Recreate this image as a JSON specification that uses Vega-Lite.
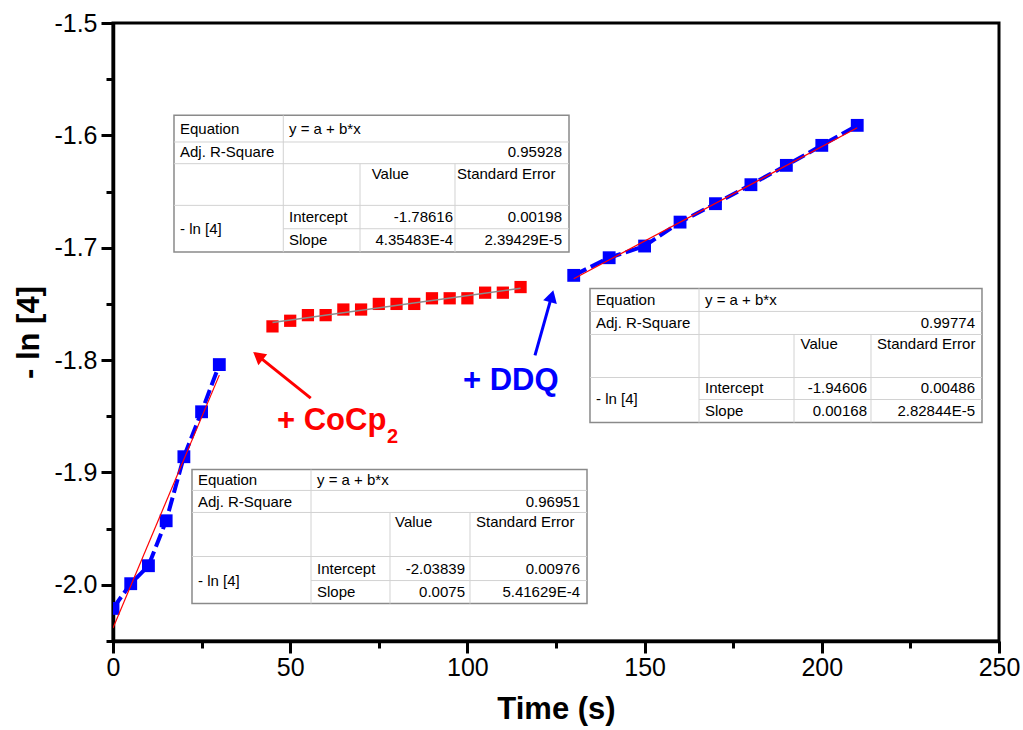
{
  "$schema": "https://vega.github.io/schema/vega-lite/v6.json",
  "width": 886,
  "height": 618,
  "autosize": {"type": "none"},
  "padding": {"left": 113, "top": 23, "right": 24, "bottom": 89},
  "background": "white",
  "config": {
    "view": {"stroke": "black", "strokeWidth": 3},
    "font": "Liberation Sans"
  },
  "datasets": {
    "pts": [
      {"series": "initial", "t": 0, "v": -2.021},
      {"series": "initial", "t": 5, "v": -1.999},
      {"series": "initial", "t": 10, "v": -1.983},
      {"series": "initial", "t": 15, "v": -1.943},
      {"series": "initial", "t": 20, "v": -1.886},
      {"series": "initial", "t": 25, "v": -1.846},
      {"series": "initial", "t": 30, "v": -1.804},
      {"series": "CoCp2", "t": 45, "v": -1.770},
      {"series": "CoCp2", "t": 50, "v": -1.765},
      {"series": "CoCp2", "t": 55, "v": -1.760},
      {"series": "CoCp2", "t": 60, "v": -1.760},
      {"series": "CoCp2", "t": 65, "v": -1.755},
      {"series": "CoCp2", "t": 70, "v": -1.755},
      {"series": "CoCp2", "t": 75, "v": -1.750},
      {"series": "CoCp2", "t": 80, "v": -1.750},
      {"series": "CoCp2", "t": 85, "v": -1.750},
      {"series": "CoCp2", "t": 90, "v": -1.745},
      {"series": "CoCp2", "t": 95, "v": -1.745},
      {"series": "CoCp2", "t": 100, "v": -1.745},
      {"series": "CoCp2", "t": 105, "v": -1.740},
      {"series": "CoCp2", "t": 110, "v": -1.740},
      {"series": "CoCp2", "t": 115, "v": -1.735},
      {"series": "DDQ", "t": 130, "v": -1.7246},
      {"series": "DDQ", "t": 140, "v": -1.7089},
      {"series": "DDQ", "t": 150, "v": -1.6985},
      {"series": "DDQ", "t": 160, "v": -1.6772},
      {"series": "DDQ", "t": 170, "v": -1.6608},
      {"series": "DDQ", "t": 180, "v": -1.6439},
      {"series": "DDQ", "t": 190, "v": -1.6267},
      {"series": "DDQ", "t": 200, "v": -1.6089},
      {"series": "DDQ", "t": 210, "v": -1.5911}
    ],
    "fits": [
      {"series": "initial", "t": 0, "v": -2.03839},
      {"series": "initial", "t": 30, "v": -1.81339},
      {"series": "CoCp2", "t": 45, "v": -1.76656},
      {"series": "CoCp2", "t": 115, "v": -1.73608},
      {"series": "DDQ", "t": 130, "v": -1.72766},
      {"series": "DDQ", "t": 210, "v": -1.59326}
    ],
    "arrows": [
      {"reagent": "CoCp2", "t": 55.79, "v": -1.8339, "t2": 40.91, "v2": -1.7962},
      {"reagent": "DDQ", "t": 119.07, "v": -1.7958, "t2": 123.78, "v2": -1.7431}
    ],
    "notes": [
      {"reagent": "CoCp2", "part": "main", "text": "+ CoCp", "t": 46.27, "v": -1.8626},
      {"reagent": "CoCp2", "part": "sub", "text": "2", "t": 77.31, "v": -1.8734},
      {"reagent": "DDQ", "part": "main", "text": "+ DDQ", "t": 98.76, "v": -1.8263}
    ],
    "tables": [
      {"table": 1, "t": 17.21, "t2": 128.67, "v": -1.5822, "v2": -1.7039},
      {"table": 2, "t": 134.59, "t2": 245.20, "v": -1.7362, "v2": -1.8556},
      {"table": 3, "t": 22.29, "t2": 133.75, "v": -1.8974, "v2": -2.0167}
    ],
    "tablelines": [
      {"table": 1, "t": 17.21, "t2": 128.67, "v": -1.6059, "v2": -1.6059},
      {"table": 1, "t": 17.21, "t2": 128.67, "v": -1.6252, "v2": -1.6252},
      {"table": 1, "t": 17.21, "t2": 128.67, "v": -1.6623, "v2": -1.6623},
      {"table": 1, "t": 48.05, "t2": 128.67, "v": -1.6831, "v2": -1.6831},
      {"table": 1, "t": 48.05, "t2": 48.05, "v": -1.5822, "v2": -1.7039},
      {"table": 1, "t": 69.70, "t2": 69.70, "v": -1.6252, "v2": -1.7039},
      {"table": 1, "t": 96.50, "t2": 96.50, "v": -1.6252, "v2": -1.7039},
      {"table": 2, "t": 134.59, "t2": 245.20, "v": -1.7567, "v2": -1.7567},
      {"table": 2, "t": 134.59, "t2": 245.20, "v": -1.7772, "v2": -1.7772},
      {"table": 2, "t": 134.59, "t2": 245.20, "v": -1.8155, "v2": -1.8155},
      {"table": 2, "t": 165.35, "t2": 245.20, "v": -1.8351, "v2": -1.8351},
      {"table": 2, "t": 165.35, "t2": 165.35, "v": -1.7362, "v2": -1.8556},
      {"table": 2, "t": 192.16, "t2": 192.16, "v": -1.7772, "v2": -1.8556},
      {"table": 2, "t": 213.88, "t2": 213.88, "v": -1.7772, "v2": -1.8556},
      {"table": 3, "t": 22.29, "t2": 133.75, "v": -1.9160, "v2": -1.9160},
      {"table": 3, "t": 22.29, "t2": 133.75, "v": -1.9356, "v2": -1.9356},
      {"table": 3, "t": 22.29, "t2": 133.75, "v": -1.9748, "v2": -1.9748},
      {"table": 3, "t": 55.87, "t2": 133.75, "v": -1.9962, "v2": -1.9962},
      {"table": 3, "t": 55.87, "t2": 55.87, "v": -1.8974, "v2": -2.0167},
      {"table": 3, "t": 78.16, "t2": 78.16, "v": -1.9356, "v2": -2.0167},
      {"table": 3, "t": 100.73, "t2": 100.73, "v": -1.9356, "v2": -2.0167}
    ],
    "tabletext": [
      {"table": 1, "kind": "label", "text": "Equation", "t": 18.91, "v": -1.5940},
      {"table": 1, "kind": "label", "text": "y = a + b*x", "t": 49.66, "v": -1.5940},
      {"table": 1, "kind": "label", "text": "Adj. R-Square", "t": 18.91, "v": -1.6151},
      {"table": 1, "kind": "label", "text": "Value", "t": 73.0, "v": -1.6341},
      {"table": 1, "kind": "label", "text": "Standard Error", "t": 97.07, "v": -1.6341},
      {"table": 1, "kind": "label", "text": "- ln [4]", "t": 18.91, "v": -1.6830},
      {"table": 1, "kind": "label", "text": "Intercept", "t": 49.66, "v": -1.6725},
      {"table": 1, "kind": "label", "text": "Slope", "t": 49.66, "v": -1.6930},
      {"table": 1, "kind": "number", "text": "0.95928", "t": 126.69, "v": -1.6151},
      {"table": 1, "kind": "number", "text": "-1.78616", "t": 95.94, "v": -1.6725},
      {"table": 1, "kind": "number", "text": "0.00198", "t": 126.69, "v": -1.6725},
      {"table": 1, "kind": "number", "text": "4.35483E-4", "t": 95.94, "v": -1.6930},
      {"table": 1, "kind": "number", "text": "2.39429E-5", "t": 126.69, "v": -1.6930},
      {"table": 2, "kind": "label", "text": "Equation", "t": 136.29, "v": -1.7464},
      {"table": 2, "kind": "label", "text": "y = a + b*x", "t": 167.04, "v": -1.7464},
      {"table": 2, "kind": "label", "text": "Adj. R-Square", "t": 136.29, "v": -1.7669},
      {"table": 2, "kind": "label", "text": "Value", "t": 194.0, "v": -1.7861},
      {"table": 2, "kind": "label", "text": "Standard Error", "t": 215.58, "v": -1.7861},
      {"table": 2, "kind": "label", "text": "- ln [4]", "t": 136.29, "v": -1.8350},
      {"table": 2, "kind": "label", "text": "Intercept", "t": 167.04, "v": -1.8252},
      {"table": 2, "kind": "label", "text": "Slope", "t": 167.04, "v": -1.8453},
      {"table": 2, "kind": "number", "text": "0.99774", "t": 243.23, "v": -1.7669},
      {"table": 2, "kind": "number", "text": "-1.94606", "t": 212.75, "v": -1.8252},
      {"table": 2, "kind": "number", "text": "0.00486", "t": 243.23, "v": -1.8252},
      {"table": 2, "kind": "number", "text": "0.00168", "t": 212.75, "v": -1.8453},
      {"table": 2, "kind": "number", "text": "2.82844E-5", "t": 243.23, "v": -1.8453},
      {"table": 3, "kind": "label", "text": "Equation", "t": 23.98, "v": -1.9067},
      {"table": 3, "kind": "label", "text": "y = a + b*x", "t": 57.56, "v": -1.9067},
      {"table": 3, "kind": "label", "text": "Adj. R-Square", "t": 23.98, "v": -1.9259},
      {"table": 3, "kind": "label", "text": "Value", "t": 79.57, "v": -1.9445},
      {"table": 3, "kind": "label", "text": "Standard Error", "t": 102.43, "v": -1.9445},
      {"table": 3, "kind": "label", "text": "- ln [4]", "t": 23.98, "v": -1.9962},
      {"table": 3, "kind": "label", "text": "Intercept", "t": 57.56, "v": -1.9855},
      {"table": 3, "kind": "label", "text": "Slope", "t": 57.56, "v": -2.0064},
      {"table": 3, "kind": "number", "text": "0.96951", "t": 131.77, "v": -1.9259},
      {"table": 3, "kind": "number", "text": "-2.03839", "t": 99.32, "v": -1.9855},
      {"table": 3, "kind": "number", "text": "0.00976", "t": 131.77, "v": -1.9855},
      {"table": 3, "kind": "number", "text": "0.0075", "t": 99.32, "v": -2.0064},
      {"table": 3, "kind": "number", "text": "5.41629E-4", "t": 131.77, "v": -2.0064}
    ]
  },
  "layer": [
    {
      "data": {"name": "pts"},
      "transform": [{"filter": "datum.series !== 'CoCp2'"}],
      "mark": {"type": "line", "color": "#0000ff", "strokeWidth": 4, "strokeDash": [14, 5], "clip": true},
      "encoding": {
        "x": {
          "field": "t", "type": "quantitative",
          "scale": {"domain": [0, 250], "nice": false, "zero": false},
          "axis": {
            "title": "Time (s)",
            "values": [0, 25, 50, 75, 100, 125, 150, 175, 200, 225, 250],
            "labelExpr": "datum.value % 50 === 0 ? format(datum.value, 'd') : ''",
            "tickSize": {"condition": {"test": "datum.value % 50 === 0", "value": 12}, "value": 7},
            "grid": false,
            "domainColor": "black", "domainWidth": 3.5,
            "tickColor": "black", "tickWidth": 3,
            "labelFont": "Liberation Sans", "labelFontSize": 25, "labelColor": "black", "labelPadding": 2,
            "labelFlush": false, "labelOverlap": false,
            "titleFont": "Liberation Sans", "titleFontSize": 31, "titleFontWeight": "bold", "titleColor": "black", "titlePadding": 14
          }
        },
        "y": {
          "field": "v", "type": "quantitative",
          "scale": {"domain": [-2.05, -1.5], "nice": false, "zero": false},
          "axis": {
            "title": "- ln [4]",
            "values": [-2.05, -2.0, -1.95, -1.9, -1.85, -1.8, -1.75, -1.7, -1.65, -1.6, -1.55, -1.5],
            "labelExpr": "abs(datum.value*10 - round(datum.value*10)) < 0.01 ? '-' + format(abs(datum.value), '.1f') : ''",
            "tickSize": {"condition": {"test": "abs(datum.value*10 - round(datum.value*10)) < 0.01", "value": 12}, "value": 7},
            "grid": false,
            "domainColor": "black", "domainWidth": 3.5,
            "tickColor": "black", "tickWidth": 3,
            "labelFont": "Liberation Sans", "labelFontSize": 25, "labelColor": "black", "labelPadding": 4,
            "labelFlush": false, "labelOverlap": false,
            "titleFont": "Liberation Sans", "titleFontSize": 31, "titleFontWeight": "bold", "titleColor": "black", "titlePadding": 8
          }
        },
        "detail": {"field": "series"}
      }
    },
    {
      "data": {"name": "pts"},
      "transform": [{"filter": "datum.series !== 'CoCp2'"}],
      "mark": {"type": "point", "shape": "square", "filled": true, "size": 165, "color": "#0000ff", "opacity": 1, "clip": true},
      "encoding": {
        "x": {"field": "t", "type": "quantitative"},
        "y": {"field": "v", "type": "quantitative"}
      }
    },
    {
      "data": {"name": "pts"},
      "transform": [{"filter": "datum.series === 'CoCp2'"}],
      "mark": {"type": "point", "shape": "square", "filled": true, "size": 150, "color": "#ff0000", "opacity": 1, "clip": true},
      "encoding": {
        "x": {"field": "t", "type": "quantitative"},
        "y": {"field": "v", "type": "quantitative"}
      }
    },
    {
      "data": {"name": "fits"},
      "transform": [{"filter": "datum.series !== 'CoCp2'"}],
      "mark": {"type": "line", "color": "#ff0000", "strokeWidth": 1.2, "clip": true},
      "encoding": {
        "x": {"field": "t", "type": "quantitative"},
        "y": {"field": "v", "type": "quantitative"},
        "detail": {"field": "series"}
      }
    },
    {
      "data": {"name": "fits"},
      "transform": [{"filter": "datum.series === 'CoCp2'"}],
      "mark": {"type": "line", "color": "#8c8c8c", "strokeWidth": 1.5, "clip": true},
      "encoding": {
        "x": {"field": "t", "type": "quantitative"},
        "y": {"field": "v", "type": "quantitative"}
      }
    },
    {
      "data": {"name": "arrows"},
      "mark": {"type": "rule", "strokeWidth": 3},
      "encoding": {
        "x": {"field": "t", "type": "quantitative"},
        "y": {"field": "v", "type": "quantitative"},
        "x2": {"field": "t2"},
        "y2": {"field": "v2"},
        "color": {"field": "reagent", "type": "nominal", "scale": {"domain": ["CoCp2", "DDQ"], "range": ["#ff0000", "#0000ff"]}, "legend": null}
      }
    },
    {
      "data": {"name": "arrows"},
      "transform": [{"filter": "datum.reagent === 'CoCp2'"}],
      "mark": {"type": "point", "shape": "triangle-up", "filled": true, "size": 200, "angle": 308.7, "opacity": 1},
      "encoding": {
        "x": {"field": "t2", "type": "quantitative"},
        "y": {"field": "v2", "type": "quantitative"},
        "color": {"field": "reagent", "type": "nominal", "legend": null}
      }
    },
    {
      "data": {"name": "arrows"},
      "transform": [{"filter": "datum.reagent === 'DDQ'"}],
      "mark": {"type": "point", "shape": "triangle-up", "filled": true, "size": 200, "angle": 15.7, "opacity": 1},
      "encoding": {
        "x": {"field": "t2", "type": "quantitative"},
        "y": {"field": "v2", "type": "quantitative"},
        "color": {"field": "reagent", "type": "nominal", "legend": null}
      }
    },
    {
      "data": {"name": "notes"},
      "transform": [{"filter": "datum.part === 'main'"}],
      "mark": {"type": "text", "align": "left", "baseline": "alphabetic", "font": "Liberation Sans", "fontSize": 31, "fontWeight": "bold"},
      "encoding": {
        "x": {"field": "t", "type": "quantitative"},
        "y": {"field": "v", "type": "quantitative"},
        "text": {"field": "text"},
        "color": {"field": "reagent", "type": "nominal", "legend": null}
      }
    },
    {
      "data": {"name": "notes"},
      "transform": [{"filter": "datum.part === 'sub'"}],
      "mark": {"type": "text", "align": "left", "baseline": "alphabetic", "font": "Liberation Sans", "fontSize": 20, "fontWeight": "bold"},
      "encoding": {
        "x": {"field": "t", "type": "quantitative"},
        "y": {"field": "v", "type": "quantitative"},
        "text": {"field": "text"},
        "color": {"field": "reagent", "type": "nominal", "legend": null}
      }
    },
    {
      "data": {"name": "tables"},
      "mark": {"type": "rect", "fill": "white", "stroke": "#8a8a8a", "strokeWidth": 1.5},
      "encoding": {
        "x": {"field": "t", "type": "quantitative"},
        "x2": {"field": "t2"},
        "y": {"field": "v", "type": "quantitative"},
        "y2": {"field": "v2"}
      }
    },
    {
      "data": {"name": "tablelines"},
      "mark": {"type": "rule", "color": "#d2d2d2", "strokeWidth": 1},
      "encoding": {
        "x": {"field": "t", "type": "quantitative"},
        "x2": {"field": "t2"},
        "y": {"field": "v", "type": "quantitative"},
        "y2": {"field": "v2"}
      }
    },
    {
      "data": {"name": "tabletext"},
      "transform": [{"filter": "datum.kind === 'label'"}],
      "mark": {"type": "text", "align": "left", "baseline": "middle", "font": "Liberation Sans", "fontSize": 15, "color": "black"},
      "encoding": {
        "x": {"field": "t", "type": "quantitative"},
        "y": {"field": "v", "type": "quantitative"},
        "text": {"field": "text"}
      }
    },
    {
      "data": {"name": "tabletext"},
      "transform": [{"filter": "datum.kind === 'number'"}],
      "mark": {"type": "text", "align": "right", "baseline": "middle", "font": "Liberation Sans", "fontSize": 15, "color": "black"},
      "encoding": {
        "x": {"field": "t", "type": "quantitative"},
        "y": {"field": "v", "type": "quantitative"},
        "text": {"field": "text"}
      }
    }
  ]
}
